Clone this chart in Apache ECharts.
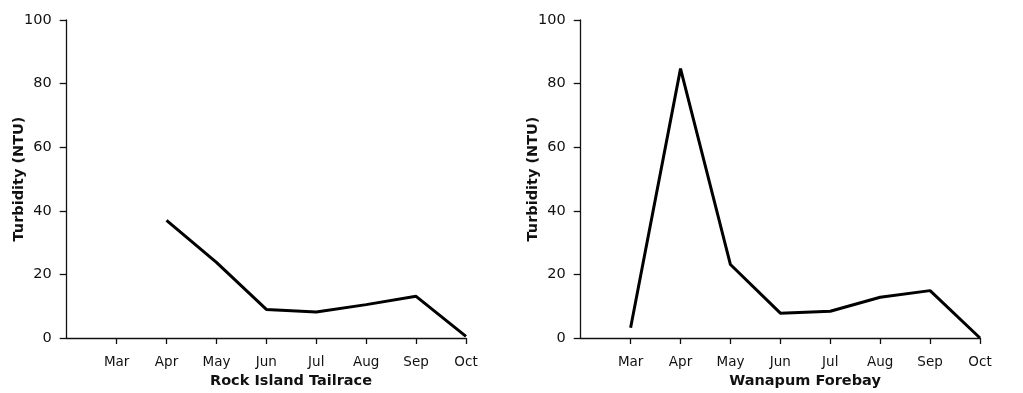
<!DOCTYPE html>
<html>
<head>
<meta charset="utf-8">
<script src="https://cdn.jsdelivr.net/npm/echarts@6/dist/echarts.min.js"></script>
<style>
  html, body { margin: 0; padding: 0; background: #fff; }
  #chart { width: 1023px; height: 393px; }
</style>
</head>
<body>
<div id="chart"></div>
<script>
// Monthly turbidity readings (NTU) at two Columbia River sites
const monthLabels = ['Mar', 'Apr', 'May', 'Jun', 'Jul', 'Aug', 'Sep', 'Oct'];
const firstMonth = 3; // March as month number
const rockIslandTailrace = [null, 37, 23.8, 9, 8.2, 10.5, 13.1, 0.5];
const wanapumForebay = [3.2, 84.7, 23.1, 7.8, 8.4, 12.8, 14.9, 0];
const siteNames = ['Rock Island Tailrace', 'Wanapum Forebay'];
const yTitle = 'Turbidity (NTU)';
const yTicks = [0, 20, 40, 60, 80, 100];

const monthNumbers = monthLabels.map((_, i) => firstMonth + i);
const toPairs = vals => vals.map((v, i) => [monthNumbers[i], v]).filter(p => p[1] !== null);

const ink = '#111';
const tickFont = 'DejaVu Sans';

function xAxisFor(gridIndex) {
  return {
    type: 'value', gridIndex,
    min: firstMonth - 1, max: firstMonth + monthLabels.length - 1, interval: 1,
    splitLine: { show: false },
    axisLine: { onZero: false, lineStyle: { color: ink, width: 1.3 } },
    axisTick: { length: 6, customValues: monthNumbers, lineStyle: { color: ink, width: 1.3 } },
    axisLabel: {
      customValues: monthNumbers,
      formatter: v => monthLabels[v - firstMonth] || '',
      color: ink, fontFamily: tickFont, fontSize: 13.5, margin: 17
    }
  };
}

function yAxisFor(gridIndex) {
  return {
    type: 'value', gridIndex,
    min: yTicks[0], max: yTicks[yTicks.length - 1], interval: 20,
    splitLine: { show: false },
    axisLine: { show: true, lineStyle: { color: ink, width: 1.3 } },
    axisTick: { show: true, length: 7, lineStyle: { color: ink, width: 1.3 } },
    axisLabel: { color: ink, fontFamily: tickFont, fontSize: 14.5, margin: 15 },
    name: yTitle, nameLocation: 'middle', nameGap: 40, nameMoveOverlap: false,
    nameTextStyle: { color: ink, fontFamily: tickFont, fontWeight: 'bold', fontSize: 14.5 }
  };
}

function lineSeries(idx, vals) {
  return {
    type: 'line', xAxisIndex: idx, yAxisIndex: idx,
    data: toPairs(vals),
    symbol: 'none',
    lineStyle: { color: '#000', width: 3, join: 'bevel' },
    animation: false
  };
}

const chart = echarts.init(document.getElementById('chart'), null, { renderer: 'canvas' });
chart.setOption({
  backgroundColor: '#fff',
  animation: false,
  grid: [
    { left: 66.7, right: 557, top: 20, bottom: 55 },
    { left: 580.7, right: 43, top: 20, bottom: 55 }
  ],
  xAxis: [xAxisFor(0), xAxisFor(1)],
  yAxis: [yAxisFor(0), yAxisFor(1)],
  series: [lineSeries(0, rockIslandTailrace), lineSeries(1, wanapumForebay)],
  graphic: [
    { type: 'text', x: 291, y: 381, style: { text: siteNames[0], align: 'center', verticalAlign: 'middle', fill: ink, font: 'bold 14.5px "DejaVu Sans"' } },
    { type: 'text', x: 805, y: 381, style: { text: siteNames[1], align: 'center', verticalAlign: 'middle', fill: ink, font: 'bold 14.5px "DejaVu Sans"' } }
  ]
});
</script>
</body>
</html>
